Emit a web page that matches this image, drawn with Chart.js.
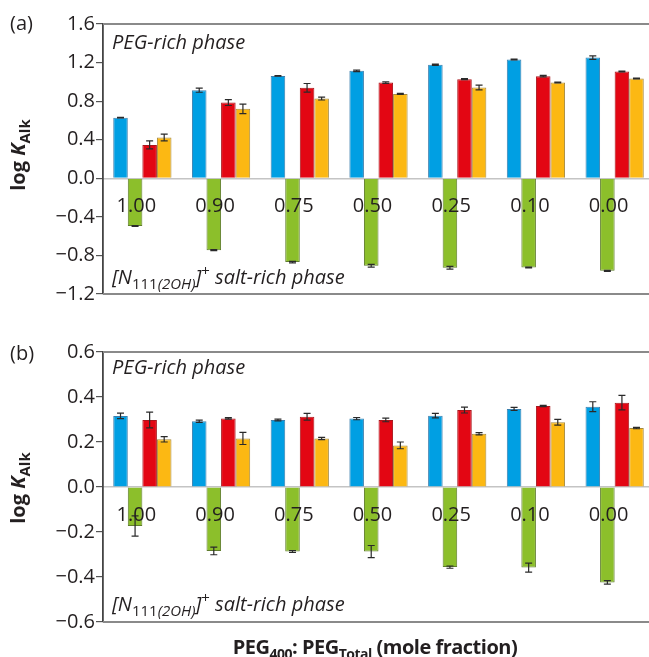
<!DOCTYPE html>
<html>
<head>
<meta charset="utf-8">
<script src="https://cdn.jsdelivr.net/npm/chart.js@4.4.1/dist/chart.umd.min.js"></script>
<style>
html, body { margin: 0; padding: 0; width: 649px; height: 657px; overflow: hidden; background: #fff; }
body { position: relative; font-family: "Open Sans", sans-serif; color: #231f20; }
canvas { position: absolute; left: 0; }
.t { position: absolute; font-size: 20px; line-height: 20px; white-space: nowrap; }
.i { font-style: italic; }
.b { font-weight: bold; }
.t sub, .t sup { font-size: 15px; line-height: 0; }
.up { font-style: normal; }
.xt { letter-spacing: -0.5px; }
.xt sub { font-size: 14px; }
</style>
</head>
<body>
<canvas id="chartA" width="656" height="308" style="top:0"></canvas>
<canvas id="chartB" width="656" height="308" style="top:328px"></canvas>

<div class="t" style="left:10px; top:13px">(a)</div>
<div class="t" style="left:10px; top:343px">(b)</div>

<div class="t i" style="left:112px; top:32px">PEG-rich phase</div>
<div class="t i" style="left:112px; top:357px">PEG-rich phase</div>

<div class="t i" style="left:112px; top:267px">[N<sub><span class="up">111</span>(2OH)</sub>]<sup class="up">+</sup> salt-rich phase</div>
<div class="t i" style="left:112px; top:594px">[N<sub><span class="up">111</span>(2OH)</sub>]<sup class="up">+</sup> salt-rich phase</div>

<div class="t b" style="left:18px; top:155px; transform: translate(-50%, -50%) rotate(-90deg)">log <i>K</i><sub>Alk</sub></div>
<div class="t b" style="left:18px; top:488px; transform: translate(-50%, -50%) rotate(-90deg)">log <i>K</i><sub>Alk</sub></div>

<div class="t b xt" style="left:375px; top:637px; transform: translateX(-50%)">PEG<sub>400</sub>: PEG<sub>Total</sub> (mole fraction)</div>

<script>
// PEG400 mole fraction in the PEG blend
const categories = ['1.00', '0.90', '0.75', '0.50', '0.25', '0.10', '0.00'];

// Panel (a): log K values and their uncertainties
const blueA   = [0.629, 0.914, 1.062, 1.114, 1.177, 1.232, 1.252];
const greenA  = [-0.495, -0.745, -0.869, -0.907, -0.928, -0.925, -0.960];
const redA    = [0.346, 0.785, 0.938, 0.993, 1.028, 1.059, 1.107];
const yellowA = [0.422, 0.720, 0.827, 0.875, 0.941, 0.993, 1.035];
const blueErrA   = [0.004, 0.022, 0.004, 0.008, 0.006, 0.004, 0.018];
const greenErrA  = [0.004, 0.006, 0.008, 0.014, 0.014, 0.004, 0.006];
const redErrA    = [0.042, 0.030, 0.045, 0.008, 0.005, 0.008, 0.005];
const yellowErrA = [0.035, 0.050, 0.015, 0.005, 0.025, 0.005, 0.005];

// Panel (b)
const blueB   = [0.316, 0.292, 0.298, 0.304, 0.317, 0.347, 0.357];
const greenB  = [-0.173, -0.284, -0.287, -0.287, -0.356, -0.358, -0.424];
const redB    = [0.298, 0.305, 0.312, 0.298, 0.342, 0.360, 0.375];
const yellowB = [0.212, 0.216, 0.216, 0.185, 0.237, 0.288, 0.262];
const blueErrB   = [0.012, 0.005, 0.004, 0.005, 0.010, 0.007, 0.022];
const greenErrB  = [0.045, 0.017, 0.004, 0.027, 0.005, 0.020, 0.008];
const redErrB    = [0.035, 0.003, 0.015, 0.008, 0.013, 0.003, 0.032];
const yellowErrB = [0.012, 0.027, 0.005, 0.015, 0.005, 0.013, 0.003];

const styles = {
  blue:   { bg: '#009fe3', border: '#3b7fae' },
  green:  { bg: '#8cbf2b', border: '#5f7d2c' },
  red:    { bg: '#e30613', border: '#a8161c' },
  yellow: { bg: '#fcb813', border: '#a68a3e' }
};

const textColor = '#231f20';

// Vertical error bars with caps, placed on each bar through the y scale
const errorBars = {
  id: 'errorBars',
  afterDatasetsDraw(chart) {
    const ctx = chart.ctx;
    const y = chart.scales.y;
    chart.data.datasets.forEach((ds, i) => {
      const meta = chart.getDatasetMeta(i);
      meta.data.forEach((bar, j) => {
        const v = ds.data[j];
        const e = ds.errors[j];
        if (!e) return;
        const top = y.getPixelForValue(v + e);
        const bot = y.getPixelForValue(v - e);
        const cap = 3.5;
        ctx.save();
        ctx.strokeStyle = '#2a2a2a';
        ctx.lineWidth = 1.2;
        ctx.beginPath();
        ctx.moveTo(bar.x, top); ctx.lineTo(bar.x, bot);
        ctx.moveTo(bar.x - cap, top); ctx.lineTo(bar.x + cap, top);
        ctx.moveTo(bar.x - cap, bot); ctx.lineTo(bar.x + cap, bot);
        ctx.stroke();
        ctx.restore();
      });
    });
  }
};

// Grey rules along the top and bottom of the plotting area
const frame = {
  id: 'frame',
  beforeDatasetsDraw(chart) {
    const { ctx, chartArea: a } = chart;
    ctx.save();
    ctx.strokeStyle = '#8a8a8a';
    ctx.lineWidth = 2;
    ctx.beginPath();
    ctx.moveTo(a.left, a.top); ctx.lineTo(a.right, a.top);
    ctx.moveTo(a.left, a.bottom); ctx.lineTo(a.right, a.bottom);
    ctx.stroke();
    ctx.restore();
  }
};

function makeDataset(label, data, errors, style) {
  return {
    label, data, errors,
    backgroundColor: style.bg,
    borderColor: style.border,
    borderWidth: 1,
    categoryPercentage: 0.74,
    barPercentage: 1.0
  };
}

function buildChart(id, series, yMin, yMax, step) {
  return new Chart(document.getElementById(id), {
    type: 'bar',
    data: {
      labels: categories,
      datasets: [
        makeDataset('Series 1', series.blue, series.blueErr, styles.blue),
        makeDataset('Series 2', series.green, series.greenErr, styles.green),
        makeDataset('Series 3', series.red, series.redErr, styles.red),
        makeDataset('Series 4', series.yellow, series.yellowErr, styles.yellow)
      ]
    },
    options: {
      responsive: false,
      animation: false,
      devicePixelRatio: 1,
      layout: { padding: { top: 24, bottom: 14, left: 0, right: 2 } },
      plugins: { legend: { display: false }, tooltip: { enabled: false } },
      scales: {
        x: {
          type: 'category',
          position: { y: 0 },
          offset: true,
          grid: { drawOnChartArea: false, drawTicks: false, z: -1 },
          border: { display: true, color: '#c4c4c4', width: 1.5, z: 0 },
          ticks: {
            z: 1,
            font: { family: 'Open Sans', size: 20 },
            color: textColor,
            padding: 16,
            labelOffset: -6,
            maxRotation: 0
          }
        },
        y: {
          min: yMin,
          max: yMax,
          afterFit(scale) { scale.width = 103; },
          grid: { drawOnChartArea: false, drawTicks: true, tickLength: 7, color: '#555', lineWidth: 1.2 },
          border: { display: true, color: '#444', width: 1.8 },
          ticks: {
            stepSize: step,
            font: { family: 'Open Sans', size: 20 },
            color: textColor,
            padding: 1,
            callback: (v) => Number(v).toFixed(1).replace('-', '\u2212')
          }
        }
      }
    },
    plugins: [frame, errorBars]
  });
}

buildChart('chartA', {
  blue: blueA, green: greenA, red: redA, yellow: yellowA,
  blueErr: blueErrA, greenErr: greenErrA, redErr: redErrA, yellowErr: yellowErrA
}, -1.2, 1.6, 0.4);

buildChart('chartB', {
  blue: blueB, green: greenB, red: redB, yellow: yellowB,
  blueErr: blueErrB, greenErr: greenErrB, redErr: redErrB, yellowErr: yellowErrB
}, -0.6, 0.6, 0.2);
</script>
</body>
</html>
